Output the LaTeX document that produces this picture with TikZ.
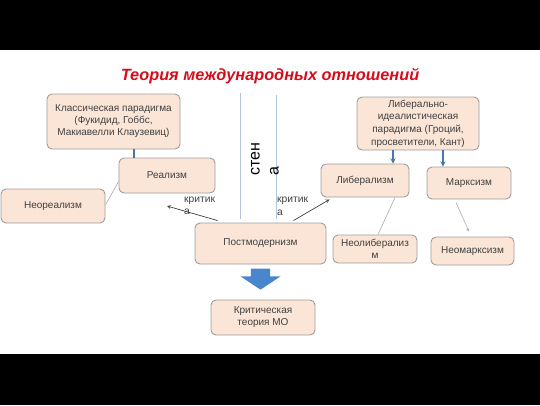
\documentclass[tikz,border=0pt]{standalone}
\usepackage{fontspec}
\setmainfont{Liberation Sans}
\usetikzlibrary{shapes.arrows}
\definecolor{boxfill}{RGB}{251,229,214}
\definecolor{boxline}{RGB}{158,158,158}
\definecolor{txtgrey}{RGB}{64,64,64}
\definecolor{titlered}{RGB}{214,12,28}
\definecolor{linkblue}{RGB}{70,118,170}
\definecolor{arrowblue}{RGB}{74,134,204}
\definecolor{wallblue}{RGB}{180,198,220}
\begin{document}
\begin{tikzpicture}[x=1pt,y=-1pt,
    box/.style={draw=boxline,fill=boxfill,line width=0.9pt,rounded corners=5pt,
      text=txtgrey,align=center,inner sep=0pt,font=\fontsize{10}{12}\selectfont},
    bluelink/.style={draw=linkblue,line width=1.3pt},
    greylink/.style={draw=boxline!85,line width=0.6pt},
    critlink/.style={draw=txtgrey,line width=0.7pt,-stealth},
    wall/.style={draw=wallblue,line width=1pt},
    note/.style={text=txtgrey,align=left,inner sep=0pt,font=\fontsize{10.3}{12.5}\selectfont}]
        \useasboundingbox (0,0) rectangle (540,405);
        \fill[black] (0,0) rectangle (540,50);
        \fill[black] (0,354) rectangle (540,405);

        \node[text=titlered,font=\fontsize{16.3}{19}\selectfont\bfseries\itshape] (title) at (270,76) {Теория международных отношений};

        \draw[wall] (240,93) -- (240,219);
        \draw[wall] (276,95) -- (276,219);
        \node[note,rotate=90,font=\fontsize{16}{19}\selectfont,text=black] (wallname) at (265,159) {стен\\а};

        \node[box,minimum width=133,minimum height=55] (class) at (113.5,121.5) {Классическая парадигма\\(Фукидид, Гоббс,\\Макиавелли Клаузевиц)};
        \node[box,minimum width=96,minimum height=35] (real) at (167,175.5) {Реализм};
        \node[box,minimum width=104,minimum height=34] (neoreal) at (53,206) {Неореализм};

        \node[box,minimum width=122,minimum height=53,font=\fontsize{10}{12.7}\selectfont] (libid) at (418,123.5) {Либерально-\\идеалистическая\\парадигма (Гроций,\\просветители, Кант)};
        \node[box,minimum width=88,minimum height=33] (lib) at (365,180.5) {Либерализм};
        \node[box,minimum width=84,minimum height=32] (marx) at (469,183) {Марксизм};
        \node[box,minimum width=84,minimum height=28] (neolib) at (375,249) {Неолиберализ\\м};
        \node[box,minimum width=83,minimum height=28] (neomarx) at (472.5,251) {Неомарксизм};

        \node[box,minimum width=131,minimum height=41] (post) at (260.5,243.5) {Постмодернизм};
        \node[box,minimum width=104,minimum height=35] (crit) at (263,317.5) {Критическая\\теория МО};

        \node[note,anchor=north west] (critiqueL) at (184,196.5) {критик\\а};
        \node[note,anchor=north west] (critiqueR) at (277,197) {критик\\а};

        \draw[bluelink] ([xshift=20.5pt]class.south) -- ([xshift=20.5pt]class.south |- real.north);
        \draw[greylink] ([yshift=-6pt]real.west) -- ([yshift=1pt]neoreal.east);

        \draw[bluelink,-stealth] ([xshift=-25pt]libid.south) -- ([xshift=-25pt]libid.south |- lib.north);
        \draw[bluelink,-stealth] ([xshift=25pt]libid.south) -- ([xshift=25pt]libid.south |- marx.north);
        \draw[greylink] ([xshift=30pt]lib.south) -- ([xshift=3pt]neolib.north);
        \draw[greylink,-stealth] ([xshift=-13pt,yshift=-3pt]marx.south) -- ([xshift=-3.5pt,yshift=5pt]neomarx.north);

        \coordinate (critL) at (167,206);
        \draw[critlink] ([xshift=23pt,yshift=2pt]post.north west) -- (critL);
        \draw[critlink] ([xshift=-33pt,yshift=2pt]post.north east) -- ([xshift=9pt,yshift=-2pt]lib.south west);

        \node[single arrow,fill=arrowblue,rotate=-90,anchor=tail,inner xsep=0pt,inner ysep=9.5pt,
          single arrow head extend=10.5pt,single arrow tip angle=113,minimum height=21pt] (down) at ([yshift=-4pt]post.south) {};

    \end{tikzpicture}
\end{document}
